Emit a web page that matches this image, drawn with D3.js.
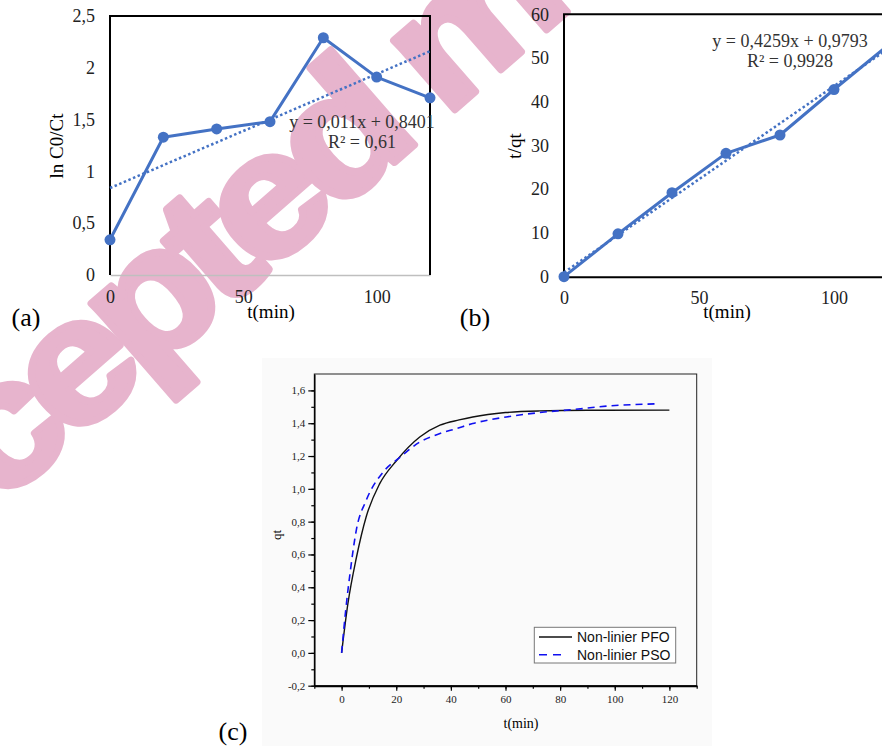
<!DOCTYPE html>
<html>
<head>
<meta charset="utf-8">
<script src="https://cdn.jsdelivr.net/npm/d3@7"></script>
<style>
  body { margin: 0; background: #fff; }
  svg { display: block; }
</style>
</head>
<body>
<div id="chart"></div>
<script>
// (a) ln C0/Ct vs time
const timeA = [0, 20, 40, 60, 80, 100, 120];
const lnC0Ct = [0.34, 1.33, 1.41, 1.48, 2.29, 1.91, 1.71];
const trendATime = [0, 120];
const trendAValues = [0.84, 2.16];

// (b) t/qt vs time
const timeB = [0, 20, 40, 60, 80, 100, 120];
const tOverQt = [0, 9.8, 19.2, 28.2, 32.4, 42.8, 52.9];
const trendBTime = [0, 120];
const trendBValues = [0.98, 52.09];

// (c) non-linear fits
const pfoTime = [0, 2.3, 5.4, 9, 13.9, 20, 28.6, 36, 43, 48, 60, 72.5, 90, 120];
const pfoQt = [0, 0.30, 0.58, 0.83, 1.03, 1.17, 1.316, 1.388, 1.42, 1.438, 1.465, 1.475, 1.479, 1.48];
const psoTime = [0, 1.5, 3.2, 5.4, 9, 15.1, 21.2, 28.6, 36, 42, 48, 60.3, 72.5, 84.7, 96.9, 115.2];
const psoQt = [0, 0.26, 0.50, 0.75, 0.93, 1.10, 1.19, 1.285, 1.337, 1.367, 1.398, 1.438, 1.465, 1.483, 1.504, 1.518];

const ticksA = [0, 0.5, 1, 1.5, 2, 2.5];
const ticksB = [0, 10, 20, 30, 40, 50, 60];
const ticksTime = [0, 50, 100];
const ticksCx = [0, 20, 40, 60, 80, 100, 120];
const ticksCy = [-0.2, 0, 0.2, 0.4, 0.6, 0.8, 1.0, 1.2, 1.4, 1.6];
const legendNames = ["Non-linier PFO", "Non-linier PSO"];

const serif = "'Liberation Serif', 'Times New Roman', serif";
const sans = "'Liberation Sans', Arial, sans-serif";
const blue = "#4472c4";
const comma = d => String(d).replace(".", ",");

const svg = d3.select("#chart").append("svg")
    .attr("width", 882)
    .attr("height", 746);

// watermark, drawn below everything
svg.append("text")
    .attr("transform", "translate(-2,507) rotate(-41) scale(1.12,1)")
    .attr("font-family", sans)
    .attr("font-weight", "bold")
    .attr("font-size", 175)
    .attr("letter-spacing", -12)
    .attr("fill", "#e7b4cd")
    .attr("stroke", "#e7b4cd")
    .attr("stroke-width", 7)
    .attr("stroke-linejoin", "round")
    .text("cepted m");

// Excel-style linear plots (a) and (b)
function drawLinear(o) {
    const g = svg.append("g");
    const x = d3.scaleLinear().domain([0, 120]).range(o.xRange);
    const y = d3.scaleLinear().domain(o.yDomain).range(o.yRange);

    const yAxis = g.append("g")
        .attr("transform", `translate(${o.xRange[0]},0)`)
        .call(d3.axisLeft(y).tickValues(o.yTicks).tickSize(0).tickPadding(15).tickFormat(comma));
    yAxis.select(".domain").remove();

    const xAxis = g.append("g")
        .attr("transform", `translate(0,${o.yRange[0]})`)
        .call(d3.axisBottom(x).tickValues(ticksTime).tickSize(0).tickPadding(15));
    xAxis.select(".domain")
        .attr("stroke", o.bottomColor)
        .attr("stroke-width", o.bottomWidth);

    g.selectAll(".tick text")
        .attr("font-family", serif)
        .attr("font-size", 18)
        .attr("fill", "#222");

    // frame: left, top, right
    g.append("path")
        .attr("d", `M${o.xRange[0]},${o.yRange[0]}V${o.yRange[1]}H${o.xRange[1]}V${o.yRange[0]}`)
        .attr("fill", "none")
        .attr("stroke", "#000")
        .attr("stroke-width", 2);

    // trendline
    g.append("path")
        .datum(o.trendT.map((t, i) => [t, o.trendV[i]]))
        .attr("d", d3.line().x(d => x(d[0])).y(d => y(d[1])))
        .attr("fill", "none")
        .attr("stroke", blue)
        .attr("stroke-width", 2.5)
        .attr("stroke-dasharray", "2.5,2.5");

    const pts = o.t.map((t, i) => [t, o.v[i]]);
    g.append("path")
        .datum(pts)
        .attr("d", d3.line().x(d => x(d[0])).y(d => y(d[1])))
        .attr("fill", "none")
        .attr("stroke", blue)
        .attr("stroke-width", 3)
        .attr("stroke-linejoin", "round");

    g.selectAll(".dot")
        .data(pts)
        .join("circle")
        .attr("class", "dot")
        .attr("cx", d => x(d[0]))
        .attr("cy", d => y(d[1]))
        .attr("r", 5.5)
        .attr("fill", blue);

    // equation
    const eq = g.append("text")
        .attr("font-family", serif)
        .attr("font-size", 18)
        .attr("fill", "#333")
        .attr("text-anchor", "middle");
    eq.append("tspan").attr("x", o.eqPos[0]).attr("y", o.eqPos[1]).text(o.eq[0]);
    eq.append("tspan").attr("x", o.eqPos[0]).attr("y", o.eqPos[1] + 20).text(o.eq[1]);

    // axis titles
    g.append("text")
        .attr("font-family", serif)
        .attr("font-size", 19)
        .attr("text-anchor", "middle")
        .attr("transform", `translate(${o.yLabelPos[0]},${o.yLabelPos[1]}) rotate(-90)`)
        .attr("dy", "0.35em")
        .text(o.yLabel);

    g.append("text")
        .attr("font-family", serif)
        .attr("font-size", 19)
        .attr("text-anchor", "middle")
        .attr("x", o.xLabelPos[0])
        .attr("y", o.xLabelPos[1])
        .text("t(min)");

    g.append("text")
        .attr("font-family", serif)
        .attr("font-size", 26)
        .attr("text-anchor", "middle")
        .attr("x", o.tagPos[0])
        .attr("y", o.tagPos[1])
        .text(o.tag);
}

drawLinear({
    xRange: [110, 430], yDomain: [0, 2.5], yRange: [275, 16], yTicks: ticksA,
    bottomColor: "#bfbfbf", bottomWidth: 1.5,
    t: timeA, v: lnC0Ct, trendT: trendATime, trendV: trendAValues,
    eq: ["y = 0,011x + 0,8401", "R\u00b2 = 0,61"], eqPos: [362, 128],
    yLabel: "ln C0/Ct", yLabelPos: [56, 146], xLabelPos: [271, 318],
    tag: "(a)", tagPos: [26, 326]
});

drawLinear({
    xRange: [564, 888], yDomain: [0, 60], yRange: [276.7, 14.3], yTicks: ticksB,
    bottomColor: "#000", bottomWidth: 2,
    t: timeB, v: tOverQt, trendT: trendBTime, trendV: trendBValues,
    eq: ["y = 0,4259x + 0,9793", "R\u00b2 = 0,9928"], eqPos: [790, 47],
    yLabel: "t/qt", yLabelPos: [514, 146], xLabelPos: [727, 318],
    tag: "(b)", tagPos: [475, 326]
});

// (c) Origin-style plot
function drawScene3() {
    const g = svg.append("g");
    g.append("rect")
        .attr("x", 262).attr("y", 358)
        .attr("width", 450).attr("height", 388)
        .attr("fill", "#fafafa");

    const x = d3.scaleLinear().domain([-10, 130]).range([314.3, 696.7]);
    const y = d3.scaleLinear().domain([-0.2, 1.7]).range([685.7, 374]);

    g.append("rect")
        .attr("x", x(-10)).attr("y", y(1.7))
        .attr("width", x(130) - x(-10)).attr("height", y(-0.2) - y(1.7))
        .attr("fill", "none")
        .attr("stroke", "#222")
        .attr("stroke-width", 1);

    // minor ticks
    g.append("g")
        .attr("transform", `translate(0,${y(-0.2)})`)
        .call(d3.axisBottom(x).tickValues(d3.range(-10, 131, 10)).tickSize(3).tickFormat(""))
        .select(".domain").remove();
    g.append("g")
        .attr("transform", `translate(${x(-10)},0)`)
        .call(d3.axisLeft(y).tickValues(d3.range(-2, 17, 1).map(d => d / 10)).tickSize(3).tickFormat(""))
        .select(".domain").remove();

    const xAxis = g.append("g")
        .attr("transform", `translate(0,${y(-0.2)})`)
        .call(d3.axisBottom(x).tickValues(ticksCx).tickSize(5).tickSizeOuter(0).tickPadding(5));
    xAxis.select(".domain").attr("stroke-width", 2);

    const yAxis = g.append("g")
        .attr("transform", `translate(${x(-10)},0)`)
        .call(d3.axisLeft(y).tickValues(ticksCy).tickSize(6).tickSizeOuter(0).tickPadding(3)
            .tickFormat(d => d3.format(".1f")(d).replace(".", ",").replace("\u2212", "-")));
    yAxis.select(".domain").attr("stroke-width", 1.5);

    g.selectAll(".tick text")
        .attr("font-family", serif)
        .attr("font-size", 11)
        .attr("fill", "#222");
    g.selectAll(".tick line").attr("stroke-width", 1.2);

    const line = d3.line().x(d => x(d[0])).y(d => y(d[1])).curve(d3.curveMonotoneX);

    g.append("path")
        .datum(pfoTime.map((t, i) => [t, pfoQt[i]]))
        .attr("d", line)
        .attr("fill", "none")
        .attr("stroke", "#111")
        .attr("stroke-width", 1.4);

    g.append("path")
        .datum(psoTime.map((t, i) => [t, psoQt[i]]))
        .attr("d", line)
        .attr("fill", "none")
        .attr("stroke", "#1010f0")
        .attr("stroke-width", 1.6)
        .attr("stroke-dasharray", "7,5");

    // legend
    const lg = g.append("g");
    lg.append("rect")
        .attr("x", 534.3).attr("y", 627.3)
        .attr("width", 141.4).attr("height", 35.7)
        .attr("fill", "#fff")
        .attr("stroke", "#777")
        .attr("stroke-width", 1);
    lg.append("line")
        .attr("x1", 539).attr("x2", 572).attr("y1", 637).attr("y2", 637)
        .attr("stroke", "#111").attr("stroke-width", 1.4);
    lg.append("line")
        .attr("x1", 539).attr("x2", 563).attr("y1", 654.7).attr("y2", 654.7)
        .attr("stroke", "#1010f0").attr("stroke-width", 1.6)
        .attr("stroke-dasharray", "8,6");
    lg.selectAll(".lt")
        .data(legendNames)
        .join("text")
        .attr("class", "lt")
        .attr("x", 577)
        .attr("y", (d, i) => 642 + i * 17.5)
        .attr("font-family", sans)
        .attr("font-size", 14)
        .attr("fill", "#111")
        .text(d => d);

    g.append("text")
        .attr("font-family", serif)
        .attr("font-size", 13)
        .attr("text-anchor", "middle")
        .attr("transform", "translate(276,535) rotate(-90)")
        .attr("dy", "0.35em")
        .text("qt");

    g.append("text")
        .attr("font-family", serif)
        .attr("font-size", 14)
        .attr("text-anchor", "middle")
        .attr("x", 521)
        .attr("y", 728)
        .text("t(min)");

    g.append("text")
        .attr("font-family", serif)
        .attr("font-size", 26)
        .attr("text-anchor", "middle")
        .attr("x", 233)
        .attr("y", 740)
        .text("(c)");
}

drawScene3();
</script>
</body>
</html>
